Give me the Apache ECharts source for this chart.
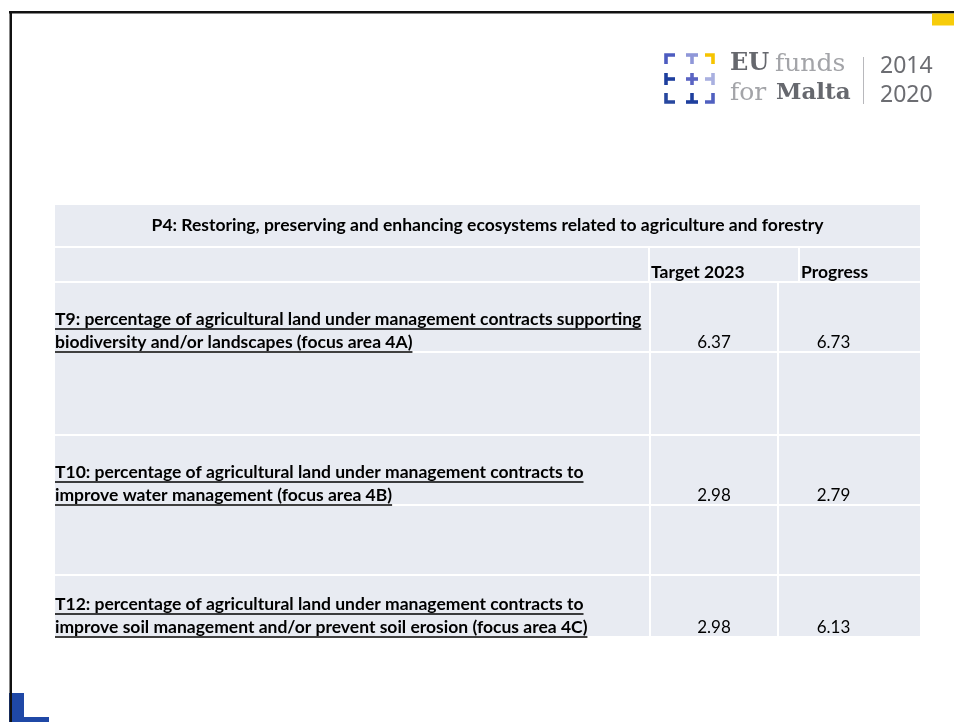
<!DOCTYPE html>
<html>
<head>
<meta charset="utf-8">
<script src="https://cdn.jsdelivr.net/npm/echarts@6/dist/echarts.min.js"></script>
<style>
  html, body { margin: 0; padding: 0; background: #fff; }
  #main { width: 954px; height: 722px; }
</style>
</head>
<body>
<div id="main"></div>
<script>
// table contents
const tableTitle = 'P4: Restoring, preserving and enhancing ecosystems related to agriculture and forestry';
const headers = ['', 'Target 2023', 'Progress'];
const indicators = [
  'T9: percentage of agricultural land under management contracts supporting\nbiodiversity and/or landscapes (focus area 4A)',
  'T10: percentage of agricultural land under management contracts to\nimprove water management (focus area 4B)',
  'T12: percentage of agricultural land under management contracts to\nimprove soil management and/or prevent soil erosion (focus area 4C)'
];
const target2023 = [6.37, 2.98, 2.98];
const progress = [6.73, 2.79, 6.13];

// layout (table units = px offset from the table's top-left corner)
const TABLE_W = 867, TABLE_H = 433;
const colEdges = [0, 596, 724, 867];
const headerColEdges = [0, 595, 745, 867];
const rowEdges = [0, 43, 78, 148, 231, 301, 371, 433];
const FONT = 'Lato';
const FS = 17.5;
const CELL_BG = '#e8ebf2';

// build the list of cells from the data
const cells = [];
cells.push({ x0: 0, x1: TABLE_W, r: 0, text: tableTitle, bold: true, align: 'center', dy: 0 });
headers.forEach((h, c) => {
  cells.push({ x0: headerColEdges[c], x1: headerColEdges[c + 1], r: 1, text: h, bold: true, align: 'left', pad: 1, dy: -1 });
});
indicators.forEach((t, i) => {
  const r = 2 + i * 2;
  cells.push({ x0: colEdges[0], x1: colEdges[1], r: r, text: t, bold: true, underline: true, align: 'left', pad: 0, dy: -1 });
  cells.push({ x0: colEdges[1], x1: colEdges[2], r: r, text: target2023[i].toFixed(2), align: 'center', shift: 0, fs: 17 });
  cells.push({ x0: colEdges[2], x1: colEdges[3], r: r, text: progress[i].toFixed(2), align: 'center', shift: -16, fs: 17 });
  if (r + 1 < rowEdges.length - 1) {
    for (let c = 0; c < 3; c++) {
      cells.push({ x0: colEdges[c], x1: colEdges[c + 1], r: r + 1, text: '' });
    }
  }
});

const measureCtx = document.createElement('canvas').getContext('2d');
function textWidth(s, font) {
  measureCtx.font = font;
  return measureCtx.measureText(s).width;
}

function renderCell(params, api) {
  const cell = cells[params.dataIndex];
  const tl = api.coord([cell.x0, rowEdges[cell.r]]);
  const br = api.coord([cell.x1, rowEdges[cell.r + 1]]);
  const x = tl[0] + 1, y = tl[1] + 1, w = br[0] - tl[0] - 2, h = br[1] - tl[1] - 2;
  const children = [{
    type: 'rect',
    shape: { x: x, y: y, width: w, height: h },
    style: { fill: CELL_BG }
  }];
  if (cell.text) {
    const lines = cell.text.split('\n');
    const lh = 23;
    const font = (cell.bold ? 'bold ' : '') + (cell.fs || FS) + 'px ' + FONT;
    let cy;
    if (cell.r === 0) cy = y + h / 2;
    else cy = y + h - 8;
    cy += cell.dy || 0;
    lines.forEach((ln, k) => {
      const ly = cy - (lines.length - 1 - k) * lh;
      let tx;
      if (cell.align === 'center') tx = x + w / 2 + (cell.shift || 0);
      else tx = x + (cell.pad || 0);
      children.push({
        type: 'text',
        style: {
          text: ln, x: tx, y: ly,
          align: cell.align, verticalAlign: 'middle',
          font: font,
          fill: '#000'
        }
      });
      if (cell.underline) {
        const tw = textWidth(ln, font);
        children.push({
          type: 'line',
          shape: { x1: tx, y1: ly + 10, x2: tx + tw, y2: ly + 10 },
          style: { stroke: '#000', lineWidth: 1.4 }
        });
      }
    });
  }
  return { type: 'group', children: children };
}

// logo pieces: [kind, col, row, colour]
const logoPieces = [
  ['tl', 0, 0, '#4d5cc0'], ['tT', 1, 0, '#8f97d8'], ['tr', 2, 0, '#f6c400'],
  ['ml', 0, 1, '#1e3f9e'], ['mp', 1, 1, '#5a64c3'], ['mr', 2, 1, '#a9b0e0'],
  ['bl', 0, 2, '#27479f'], ['bT', 1, 2, '#1e3f9e'], ['br', 2, 2, '#5060c0']
];
const logoGraphics = [];
logoPieces.forEach(p => {
  const ox = 666 + p[1] * 20, oy = 55 + p[2] * 19;
  const s = 9, lw = 3.6;
  let pts = [];
  switch (p[0]) {
    case 'tl': pts = [[[ox, oy + s], [ox, oy], [ox + s, oy]]]; break;
    case 'tr': pts = [[[ox - 1, oy], [ox + 7, oy], [ox + 7, oy + s]]]; break;
    case 'tT': pts = [[[ox, oy], [ox + 12, oy]], [[ox + 6, oy], [ox + 6, oy + s]]]; break;
    case 'ml': pts = [[[ox, oy - 1], [ox, oy + 11]], [[ox, oy + 5], [ox + 9, oy + 5]]]; break;
    case 'mp': pts = [[[ox, oy + 5], [ox + 12, oy + 5]], [[ox + 6, oy - 1], [ox + 6, oy + 11]]]; break;
    case 'mr': pts = [[[ox + 7, oy - 1], [ox + 7, oy + 11]], [[ox - 1, oy + 5], [ox + 7, oy + 5]]]; break;
    case 'bl': pts = [[[ox, oy], [ox, oy + 9], [ox + 9, oy + 9]]]; break;
    case 'bT': pts = [[[ox, oy + 9], [ox + 12, oy + 9]], [[ox + 6, oy], [ox + 6, oy + 9]]]; break;
    case 'br': pts = [[[ox - 1, oy + 9], [ox + 7, oy + 9], [ox + 7, oy]]]; break;
  }
  pts.forEach(pl => logoGraphics.push({
    type: 'polyline', shape: { points: pl },
    style: { stroke: p[3], lineWidth: lw, fill: null, lineJoin: 'miter', lineCap: 'butt' }
  }));
});

const chart = echarts.init(document.getElementById('main'));
chart.setOption({
  backgroundColor: '#fff',
  animation: false,
  grid: { left: 54, top: 204, width: TABLE_W, height: TABLE_H },
  xAxis: { type: 'value', min: 0, max: TABLE_W, show: false },
  yAxis: { type: 'value', min: 0, max: TABLE_H, inverse: true, show: false },
  graphic: [
    // slide frame
    { type: 'rect', shape: { x: 9, y: 11, width: 945, height: 2.5 }, style: { fill: '#111' } },
    { type: 'rect', shape: { x: 932, y: 13.5, width: 22, height: 12 }, style: { fill: '#f7cc0a' } },
    { type: 'rect', shape: { x: 9, y: 693, width: 15, height: 29 }, style: { fill: '#1f48a6' } },
    { type: 'rect', shape: { x: 9, y: 717, width: 40, height: 5 }, style: { fill: '#1f48a6' } },
    { type: 'rect', shape: { x: 9.5, y: 11, width: 2.5, height: 711 }, style: { fill: '#111' } },
    // logo
    ...logoGraphics,
    { type: 'text', style: { text: 'EU', x: 730, y: 64, font: 'bold 24px "DejaVu Serif"', fill: '#66686e', verticalAlign: 'middle' } },
    { type: 'text', style: { text: 'funds', x: 775, y: 64, font: '25px "DejaVu Serif"', fill: '#a3a4a8', verticalAlign: 'middle' } },
    { type: 'text', style: { text: 'for', x: 730, y: 93, font: '25px "DejaVu Serif"', fill: '#a3a4a8', verticalAlign: 'middle' } },
    { type: 'text', style: { text: 'Malta', x: 776, y: 93, font: 'bold 23px "DejaVu Serif"', fill: '#66686e', verticalAlign: 'middle' } },
    { type: 'rect', shape: { x: 863, y: 57, width: 1, height: 47 }, style: { fill: '#b8b8bc' } },
    { type: 'text', style: { text: '2014', x: 880, y: 66, font: '23px "Noto Sans"', fill: '#6c6d72', verticalAlign: 'middle' } },
    { type: 'text', style: { text: '2020', x: 880, y: 95, font: '23px "Noto Sans"', fill: '#6c6d72', verticalAlign: 'middle' } }
  ],
  series: [{
    type: 'custom',
    coordinateSystem: 'cartesian2d',
    renderItem: renderCell,
    data: cells.map((c, i) => [i]),
    silent: true
  }]
});
</script>
</body>
</html>
